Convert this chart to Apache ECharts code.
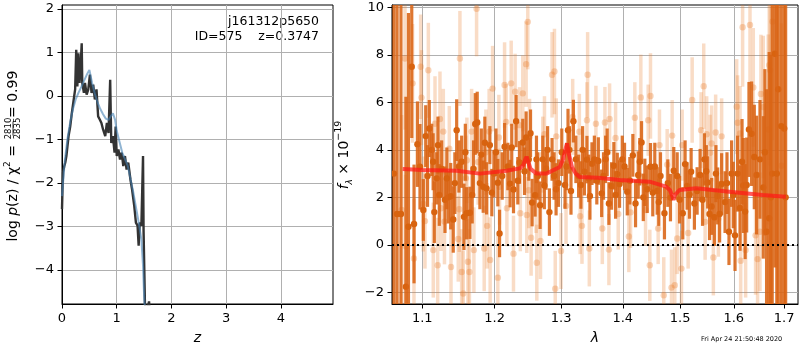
<!DOCTYPE html>
<html>
<head>
<meta charset="utf-8">
<script src="https://cdn.jsdelivr.net/npm/echarts@6/dist/echarts.min.js"></script>
<style>
  html, body { margin: 0; padding: 0; background: #fff; }
  #main { width: 800px; height: 350px; }
</style>
</head>
<body>
<div id="main"></div>
<script>
// p(z) panel
var pzZ = [0, 0.01, 0.02, 0.04, 0.06, 0.08, 0.1, 0.12, 0.15, 0.18, 0.21, 0.24, 0.26, 0.28, 0.3, 0.32, 0.34, 0.36, 0.37, 0.4,
    0.42, 0.45, 0.48, 0.51, 0.54, 0.57, 0.6, 0.63, 0.66, 0.69, 0.72, 0.75, 0.79, 0.82, 0.85, 0.88, 0.9, 0.93, 0.96, 0.98,
    1.0, 1.03, 1.06, 1.09, 1.12, 1.15, 1.18, 1.21, 1.25, 1.28, 1.32, 1.35, 1.38, 1.4, 1.42, 1.45, 1.47, 1.48, 1.49, 1.515,
    1.55, 1.59, 1.62];
var pzLog = [-2.6, -2.1, -1.75, -1.62, -1.53, -1.38, -1.15, -0.92, -0.7, -0.39, -0.12, 0.15, 1.06, 0.22, 0.98, 0.3, 0.68, 1.21, 0.3, 0.07,
    0.3, 0.03, 0.15, 0.49, 0.07, 0.26, -0.08, 0.15, -0.47, -0.54, -0.62, -0.77, -0.92, -0.62, -0.85, 0.37, -1.08, -0.92, -1.3, -0.7,
    -1.38, -1.23, -1.46, -1.3, -1.61, -1.38, -1.69, -1.53, -1.92, -2.15, -2.53, -2.91, -2.98, -3.44, -2.91, -2.98, -2.95, -1.38, -3.1, -4.78,
    -4.95, -4.72, -5.3];
var chiZ = [0, 0.05, 0.1, 0.15, 0.2, 0.25, 0.3, 0.35, 0.4, 0.45, 0.5, 0.55, 0.6, 0.65, 0.7, 0.75, 0.8, 0.85, 0.9, 0.93,
    0.97, 1.0, 1.05, 1.1, 1.15, 1.2, 1.25, 1.3, 1.35, 1.4, 1.45, 1.48, 1.5, 1.53];
var chiLog = [-2.3, -1.5, -0.98, -0.6, -0.3, -0.08, 0.07, 0.2, 0.34, 0.48, 0.6, 0.3, 0.05, -0.15, -0.3, -0.42, -0.52, -0.55, -0.45, -0.4,
    -0.55, -0.8, -1.05, -1.3, -1.45, -1.6, -1.9, -2.2, -2.55, -2.9, -3.3, -3.9, -4.6, -5.3];
var zTicks = [0, 1, 2, 3, 4];
var pzTicks = [-4, -3, -2, -1, 0, 1, 2];

// spectrum panel: dark = good pixels, light = all pixels
var darkLam = [1.0632, 1.0672, 1.0722, 1.0786, 1.0819, 1.0862, 1.0892, 1.0936, 1.0970, 1.1014,
    1.1046, 1.1094, 1.1126, 1.1161, 1.1193, 1.1228, 1.1260, 1.1305, 1.1350, 1.1383,
    1.1418, 1.1465, 1.1496, 1.1534, 1.1566, 1.1603, 1.1649, 1.1681, 1.1724, 1.1752,
    1.1790, 1.1837, 1.1885, 1.1932, 1.1990, 1.2047, 1.2072, 1.2145, 1.2193, 1.2226,
    1.2276, 1.2315, 1.2365, 1.2414, 1.2464, 1.2504, 1.2554, 1.2599, 1.2640, 1.2675,
    1.2716, 1.2766, 1.2818, 1.2859, 1.2921, 1.2958, 1.3061, 1.3108, 1.3155, 1.3193,
    1.3233, 1.3276, 1.3313, 1.3369, 1.3410, 1.3458, 1.3491, 1.3530, 1.3595, 1.3649,
    1.3714, 1.3769, 1.3813, 1.3851, 1.3908, 1.3946, 1.3992, 1.4076, 1.4171, 1.4217,
    1.4263, 1.4320, 1.4377, 1.4418, 1.4475, 1.4515, 1.4592, 1.4650, 1.4720, 1.4827,
    1.4886, 1.4947, 1.5048, 1.5127, 1.5200, 1.5260, 1.5310, 1.5365, 1.5445, 1.5506,
    1.5580, 1.5631, 1.5693, 1.5768, 1.5833, 1.5908, 1.5958, 1.6024, 1.6074, 1.6121,
    1.6185, 1.6250, 1.6295, 1.6347, 1.6445, 1.6512, 1.6578, 1.6644, 1.6697, 1.6757,
    1.6812, 1.6878, 1.7000,
    1.1070, 1.1145, 1.1210, 1.1330, 1.1440, 1.1585, 1.1700, 1.1810, 1.1860, 1.1960,
    1.2020, 1.2110, 1.2250, 1.2340, 1.2440, 1.2530, 1.2620, 1.2740, 1.2790, 1.2890,
    1.3010, 1.3085, 1.3130, 1.3340, 1.3440, 1.3570, 1.3680, 1.3740, 1.3880, 1.4030,
    1.4120, 1.4290, 1.4350, 1.4550, 1.4620, 1.4780, 1.4990, 1.5090, 1.5170, 1.5410,
    1.5480, 1.5540, 1.5660, 1.5730, 1.5870, 1.5990, 1.6160, 1.6220, 1.6400, 1.6610,
    1.6730, 1.6850, 1.6940, 1.7030];
var darkFlux = [3, 1.3, 1.3, -1.76, 0.76, 7.5, 0.88, 4.24, 3.29, 1.47,
    4.58, 4.9, 4.0, 1.38, 2.8, 2.1, 3.2, 1.9, 2.0, 2.05,
    1.07, 4.83, 3.3, 3.5, 1.18, 1.33, 1.35, 2.1, 5.09, 5.15,
    2.6, 2.45, 2.38, 4.2, 3.0, 2.62, 0.48, 4.13, 3.3, 2.58,
    2.33, 5.21, 3.47, 4.31, 4.52, 3.6, 1.78, 2.09, 2.9, 1.67,
    3.6, 3.22, 1.38, 3.6, 2.34, 2.6, 2.52, 4.83, 2.27, 5.21,
    3.6, 2.9, 2.52, 3.08, 3.59, 2.06, 3.42, 3.6, 3.53, 2.17,
    3.6, 1.74, 2.48, 3.33, 2.98, 2.56, 3.6, 2.24, 3.77, 1.74,
    2.94, 4.31, 2.63, 2.34, 3.29, 2.2, 2.27, 2.9, 1.33, 1.99,
    3.12, 2.9, 1.33, 2.48, 3.08, 1.74, 2.27, 2.94, 3.6, 2.63,
    1.62, 1.16, 2.06, 2.56, 1.8, 0.55, 3.0, 0.4, 3.0, 1.55,
    2.5, 2.52, 4.86, 4.68, 2.94, 3.6, 2.42, 0.55, 1.12, 3.0,
    8.05, 6.55, 4.9,
    2.9, 3.5, 4.2, 2.8, 2.6, 3.9, 3.2, 3.8, 4.3, 2.2,
    3.9, 2.9, 4.1, 2.7, 3.1, 4.7, 3.6, 2.5, 4.0, 2.9,
    3.9, 3.3, 4.0, 4.0, 2.8, 2.7, 2.9, 3.9, 2.1, 3.3,
    2.7, 3.5, 2.0, 3.3, 1.8, 2.6, 1.9, 3.4, 2.1, 1.9,
    3.1, 1.3, 3.0, 1.3, 2.6, 2.1, 3.5, 1.4, 3.7, 3.9,
    2.0, 3.0, 5.0, 2.0];
var darkErr = [15, 12, 9, 8, 9, 3, 2.5, 1.8, 1.8, 1.3,
    1.3, 1.2, 1.1, 1.3, 1.1, 1.3, 1.2, 1.4, 1.1, 1.4,
    1.4, 1.3, 1.1, 1.1, 1.4, 1.1, 1.1, 1.2, 1.3, 1.3,
    1.1, 1.1, 1.1, 0.8, 1.0, 1.0, 1.0, 1.0, 1.0, 1.0,
    1.0, 1.1, 0.9, 1.0, 1.1, 0.9, 1.0, 0.9, 1.0, 1.0,
    1.0, 0.9, 1.0, 0.9, 1.1, 1.0, 1.0, 0.9, 1.0, 0.9,
    1.0, 0.9, 1.0, 1.0, 1.0, 1.0, 0.9, 1.0, 1.0, 1.0,
    1.0, 0.9, 1.0, 1.0, 0.9, 1.0, 1.0, 1.0, 0.9, 1.0,
    1.0, 0.9, 1.0, 1.0, 1.0, 1.0, 1.0, 1.0, 1.1, 1.0,
    1.0, 1.0, 1.1, 1.0, 1.0, 1.1, 1.0, 1.1, 1.1, 1.1,
    1.2, 1.2, 1.2, 1.3, 1.3, 1.4, 1.4, 1.5, 1.6, 1.8,
    2, 2, 2, 2.2, 2.5, 2.5, 3, 6, 7, 8,
    9, 10, 12,
    1.3, 1.2, 1.2, 1.3, 1.3, 1.2, 1.2, 1.1, 1.1, 1.0,
    1.0, 1.0, 1.0, 1.0, 1.0, 1.0, 1.0, 1.0, 1.0, 1.0,
    1.0, 1.0, 1.0, 1.0, 1.0, 1.0, 1.0, 1.0, 1.0, 1.0,
    1.0, 1.0, 1.0, 1.0, 1.0, 1.0, 1.0, 1.0, 1.0, 1.1,
    1.1, 1.1, 1.2, 1.2, 1.3, 1.4, 1.8, 2, 2.2, 3.5,
    6, 9, 12, 12];

var lightLam = [1.0731, 1.0774, 1.0780, 1.0873, 1.0891, 1.0979, 1.0990, 1.1014, 1.1036, 1.1081,
    1.1147, 1.1170, 1.1206, 1.1237, 1.1251, 1.1282, 1.1298, 1.1364, 1.1387, 1.1487,
    1.1501, 1.1510, 1.1534, 1.1556, 1.1593, 1.1607, 1.1621, 1.1642, 1.1673, 1.1705,
    1.1743, 1.1765, 1.1851, 1.1875, 1.1893, 1.1922, 1.1936, 1.1971, 1.2047, 1.2062,
    1.2072, 1.2145, 1.2168, 1.2179, 1.2242, 1.2276, 1.2300, 1.2365, 1.2377, 1.2414,
    1.2464, 1.2474, 1.2489, 1.2504, 1.2515, 1.2539, 1.2614, 1.2625, 1.2681, 1.2716,
    1.2742, 1.2859, 1.2896, 1.2908, 1.2924, 1.2998, 1.3077, 1.3182, 1.3288, 1.3301,
    1.3330, 1.3410, 1.3421, 1.3448, 1.3555, 1.3660, 1.3703, 1.3769, 1.3780, 1.3880,
    1.3924, 1.4103, 1.4132, 1.4205, 1.4308, 1.4389, 1.4435, 1.4463, 1.4475, 1.4609,
    1.4632, 1.4708, 1.4768, 1.4845, 1.4857, 1.4904, 1.4947, 1.5024, 1.5037, 1.5146,
    1.5219, 1.5383, 1.5432, 1.5458, 1.5487, 1.5550, 1.5580, 1.5612, 1.5655, 1.5706,
    1.5768, 1.6056, 1.6074, 1.6121, 1.6133, 1.6171, 1.6230, 1.6315, 1.6380, 1.6425,
    1.6465, 1.6512, 1.6531, 1.6578, 1.6677, 1.6697, 1.6717, 1.6763, 1.6945];
var lightFlux = [1.47, 7.85, -0.05, 6.8, -0.57, 7.5, 6.2, 1.72, 1.0, 7.35,
    -0.22, 5.1, -0.86, 5.3, 1.54, 4.77, 0.98, 4.05, -0.93, 0.25,
    1.5, 7.85, -1.14, -2.05, 2.8, 3.56, -0.71, -1.14, 4.77, -0.22,
    9.94, 3.49, -0.15, 3.9, 0.8, 4.77, -0.64, 6.58, -1.38, 4.52,
    2.45, 6.73, 5.18, 1.54, 6.8, -0.37, 6.45, 5.04, 1.33, 6.38,
    7.61, 1.26, 9.39, 2.3, 4.55, 0.3, 2.1, -0.75, 0.16, 3.8,
    4.66, 7.16, 7.3, -1.85, 4.57, -0.26, 1.64, 5.39, 4.76, 1.21,
    0.8, 5.25, 7.16, -0.15, 5.1, 0.69, 5.15, -0.2, 5.3, 4.5,
    1.3, 0.35, 1.37, 5.35, 6.21, 1.47, 5.25, -0.86, 6.27, 0.69,
    4.2, -2.12, 3.38, -1.8, 4.6, -1.7, 0.27, -1.0, 4.2, 0.5,
    6.1, 4.83, 6.68, 0.97, 4.66, 3.88, 4.27, -0.53, 4.73, 1.1,
    4.57, 5.82, 5.14, 4.69, -0.67, 9.16, -0.22, 9.26, 6.63, 0.4,
    -0.6, 0.55, 6.35, 5.8, 4.86, 7.57, 7.35, 9.4, 3.33];
var lightErr = [4, 3, 3, 2.5, 2.5, 2.2, 2, 2, 2, 2,
    2, 2, 2, 2, 1.8, 1.8, 1.8, 1.8, 1.8, 1.8,
    1.8, 2, 1.8, 1.8, 1.8, 1.8, 1.8, 1.8, 1.8, 1.8,
    2, 1.8, 1.8, 1.8, 1.8, 1.8, 1.8, 1.8, 1.8, 1.8,
    1.6, 1.8, 1.6, 1.6, 1.8, 1.6, 1.6, 1.6, 1.6, 1.6,
    1.8, 1.6, 2, 1.6, 1.6, 1.6, 1.6, 1.6, 1.6, 1.6,
    1.6, 1.8, 1.8, 1.6, 1.6, 1.6, 1.6, 1.6, 1.6, 1.6,
    1.6, 1.6, 1.8, 1.6, 1.6, 1.5, 1.5, 1.5, 1.5, 1.5,
    1.5, 1.5, 1.5, 1.5, 1.8, 1.5, 1.5, 1.5, 1.8, 1.5,
    1.5, 1.6, 1.5, 1.6, 1.5, 1.6, 1.5, 1.6, 1.5, 1.5,
    1.8, 1.6, 1.8, 1.6, 1.6, 1.6, 1.6, 1.6, 1.6, 1.6,
    1.6, 2, 2, 2, 2, 2.5, 2, 2.5, 2.5, 2.5,
    2.5, 2.5, 2.5, 3, 4, 4, 4, 5, 6];

var modelLam = [1.0744, 1.10, 1.1465, 1.179, 1.2174, 1.2369, 1.242, 1.2445, 1.247, 1.2495,
    1.253, 1.262, 1.2772, 1.2978, 1.303, 1.3065, 1.3092, 1.312, 1.317, 1.323,
    1.3293, 1.3587, 1.3952, 1.4458, 1.475, 1.482, 1.486, 1.4881, 1.4905, 1.4988,
    1.5292, 1.5914, 1.6564, 1.7035];
var modelFlux = [3.19, 3.15, 3.12, 3.0, 3.12, 3.22, 3.35, 3.55, 3.71, 3.5,
    3.2, 3.0, 3.0, 3.28, 3.6, 4.0, 4.27, 3.85, 3.28, 3.0,
    2.86, 2.83, 2.73, 2.66, 2.45, 2.3, 2.05, 1.89, 2.1, 2.31,
    2.38, 2.24, 2.1, 2.03];
var lamTicks = [1.1, 1.2, 1.3, 1.4, 1.5, 1.6, 1.7];
var fluxTicks = [-2, 0, 2, 4, 6, 8, 10];

function zip(a, b, c) {
    var out = [];
    for (var i = 0; i < a.length; i++) out.push(c ? [a[i], b[i], c[i]] : [a[i], b[i]]);
    return out;
}
function minus(v) { return v < 0 ? '\u2212' + (-v) : '' + v; }

var FONT = 'DejaVu Sans';
var gridColor = '#b0b0b0';

function errBars(barColor, dotColor, w) {
    return function (params, api) {
        var x = api.value(0), y = api.value(1), e = api.value(2);
        var hi = api.coord([x, y + e]), lo = api.coord([x, y - e]), c = api.coord([x, y]);
        return {
            type: 'group',
            children: [
                {type: 'line', shape: {x1: hi[0], y1: hi[1], x2: lo[0], y2: lo[1]},
                    style: {stroke: barColor, lineWidth: w}},
                {type: 'circle', shape: {cx: c[0], cy: c[1], r: 3.2}, style: {fill: dotColor}}
            ]
        };
    };
}

function valAxis(grid, min, max, ticks, fmt) {
    return {
        type: 'value', gridIndex: grid, min: min, max: max,
        axisLine: {show: true, onZero: false, lineStyle: {color: '#000', width: 1}},
        axisTick: {show: true, length: 4.5, lineStyle: {color: '#000', width: 1}, customValues: ticks},
        axisLabel: {color: '#000', fontFamily: FONT, fontSize: 13, margin: 8, customValues: ticks, formatter: fmt},
        splitLine: {show: true, lineStyle: {color: gridColor, width: 1}}
    };
}

var myChart = echarts.init(document.getElementById('main'));

var xz = valAxis(0, 0, 4.95, zTicks, function (v) { return minus(v); });
xz.name = 'z';
xz.nameLocation = 'middle';
xz.nameGap = 27;
xz.nameTextStyle = {color: '#000', fontFamily: FONT, fontSize: 14, fontStyle: 'italic'};

var xl = valAxis(1, 1.0607, 1.7285, lamTicks, function (v) { return (+v).toFixed(1); });
xl.type = 'log';
xl.logBase = 10;
xl.name = 'λ';
xl.nameLocation = 'middle';
xl.nameGap = 27;
xl.nameTextStyle = {color: '#000', fontFamily: FONT, fontSize: 14, fontStyle: 'italic'};

var option = {
    animation: false,
    backgroundColor: '#fff',
    grid: [
        {left: 62, top: 5, width: 271, height: 299, show: true, borderColor: '#000', borderWidth: 1, backgroundColor: 'transparent'},
        {left: 392, top: 5, width: 406, height: 299, show: true, borderColor: '#000', borderWidth: 1, backgroundColor: 'transparent'}
    ],
    xAxis: [xz, xl],
    yAxis: [
        valAxis(0, -4.78, 2.09, pzTicks, function (v) { return minus(v); }),
        valAxis(1, -2.49, 10.1, fluxTicks, function (v) { return minus(v); })
    ],
    series: [
        {
            type: 'line', xAxisIndex: 0, yAxisIndex: 0, data: zip(pzZ, pzLog),
            showSymbol: false, lineStyle: {color: '#333333', width: 2.4}, z: 3
        },
        {
            type: 'line', xAxisIndex: 0, yAxisIndex: 0, data: zip(chiZ, chiLog),
            showSymbol: false, lineStyle: {color: 'rgba(70,130,180,0.6)', width: 2}, z: 4
        },
        {
            type: 'custom', xAxisIndex: 1, yAxisIndex: 1, clip: true, z: 2,
            data: zip(lightLam, lightFlux, lightErr),
            renderItem: errBars('rgba(232,125,45,0.27)', 'rgba(232,125,45,0.32)', 3.5)
        },
        {
            type: 'custom', xAxisIndex: 1, yAxisIndex: 1, clip: true, z: 3,
            data: zip(darkLam, darkFlux, darkErr),
            renderItem: errBars('rgba(218,100,20,0.88)', '#d8630f', 3.2)
        },
        {
            type: 'line', xAxisIndex: 1, yAxisIndex: 1, data: zip(modelLam, modelFlux),
            showSymbol: false, lineStyle: {color: 'rgba(255,25,25,0.72)', width: 4}, z: 5,
            markLine: {
                silent: true, symbol: 'none', label: {show: false},
                lineStyle: {color: '#000', type: [2, 3], width: 2},
                data: [{yAxis: 0}]
            }
        }
    ],
    graphic: [
        {type: 'text', right: 481, top: 15,
            style: {text: 'j161312p5650', fill: '#000', font: '12.5px "DejaVu Sans"', textAlign: 'right'}},
        {type: 'text', right: 481, top: 30,
            style: {text: 'ID=575    z=0.3747', fill: '#000', font: '12.5px "DejaVu Sans"', textAlign: 'right'}},
        {
            type: 'group', x: 13, y: 157, rotation: Math.PI / 2,
            children: [
                {type: 'text', x: 12, y: 0, style: {
                    text: 'log {i|p}(z) / χ{s|2} =', textAlign: 'right', textVerticalAlign: 'middle',
                    fill: '#000', font: '14px "DejaVu Sans"',
                    rich: {
                        i: {fontStyle: 'italic', fontFamily: FONT, fontSize: 14, lineHeight: 20},
                        s: {fontFamily: FONT, fontSize: 9, verticalAlign: 'top', lineHeight: 20}
                    }
                }},
                {type: 'text', x: 28.5, y: -4, style: {text: '2810', textAlign: 'center', textVerticalAlign: 'middle', fill: '#000', font: '8.5px "DejaVu Sans"'}},
                {type: 'line', shape: {x1: 21.5, y1: 0, x2: 35.5, y2: 0}, style: {stroke: '#000', lineWidth: 0.8}},
                {type: 'text', x: 28.5, y: 4.5, style: {text: '2835', textAlign: 'center', textVerticalAlign: 'middle', fill: '#000', font: '8.5px "DejaVu Sans"'}},
                {type: 'text', x: 39, y: 0, style: {text: '= 0.99', textAlign: 'left', textVerticalAlign: 'middle', fill: '#000', font: '14px "DejaVu Sans"'}}
            ]
        },
        {
            type: 'text', x: 344, y: 155, rotation: Math.PI / 2,
            style: {
                text: '{i|f}{b|λ} × 10{s|−19}', textAlign: 'center', textVerticalAlign: 'middle',
                fill: '#000', font: '14px "DejaVu Sans"',
                rich: {
                    i: {fontStyle: 'italic', fontFamily: FONT, fontSize: 14, lineHeight: 20},
                    b: {fontStyle: 'italic', fontFamily: FONT, fontSize: 9, verticalAlign: 'bottom', lineHeight: 20},
                    s: {fontFamily: FONT, fontSize: 9.5, verticalAlign: 'top', lineHeight: 20}
                }
            }
        },
        {type: 'text', x: 701, y: 336,
            style: {text: 'Fri Apr 24 21:50:48 2020', fill: '#000', font: '6.5px "DejaVu Sans"'}}
    ]
};
myChart.setOption(option);
</script>
</body>
</html>
